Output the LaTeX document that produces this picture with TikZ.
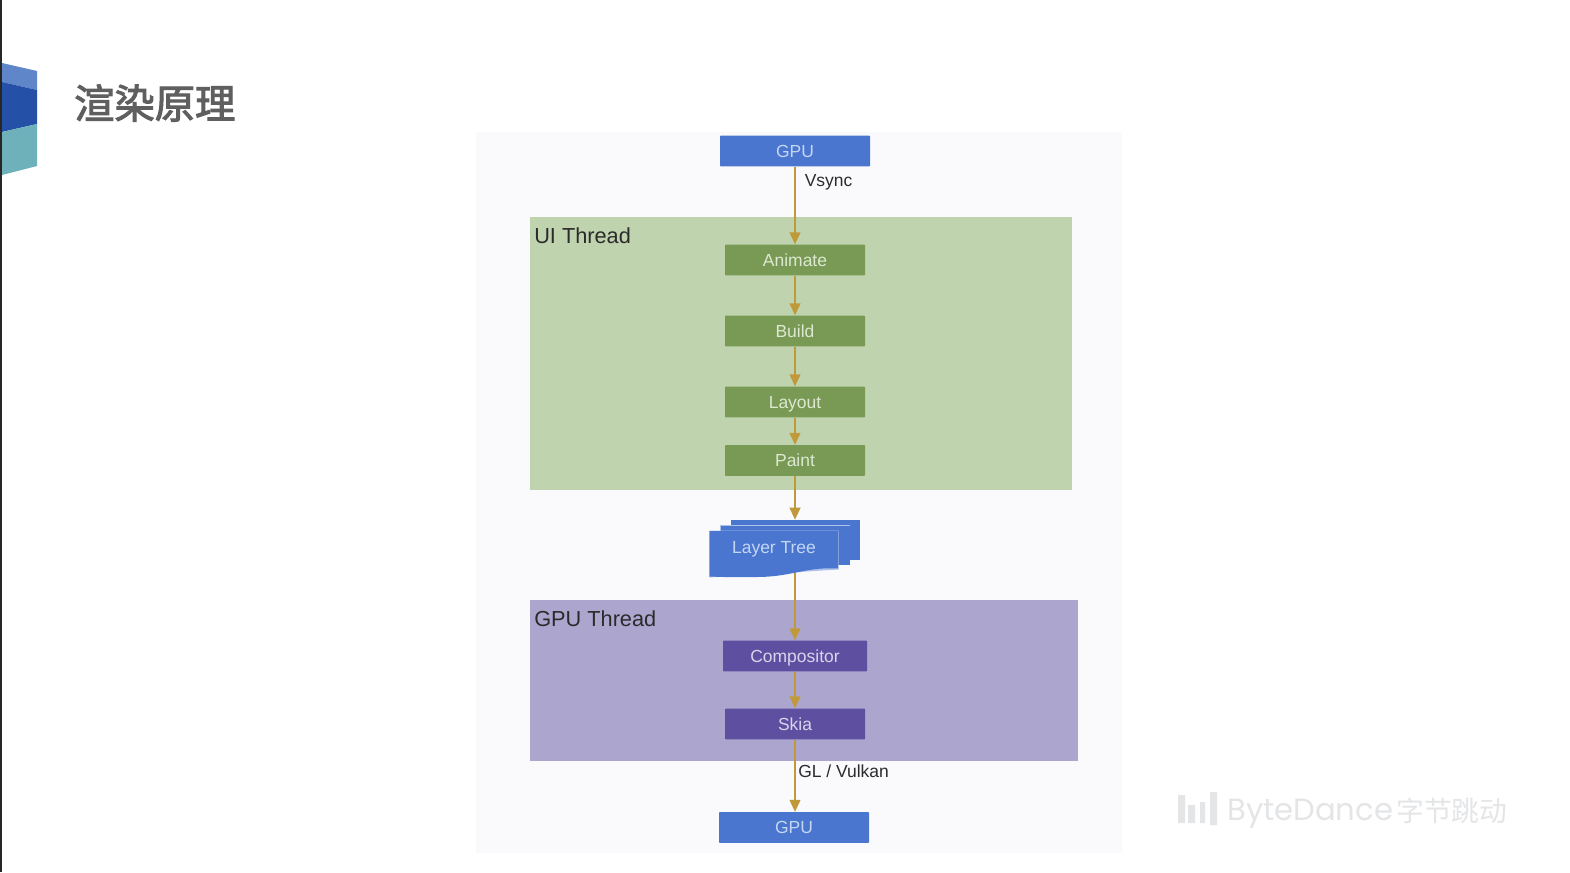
\documentclass[tikz,border=0pt]{standalone}
\usepackage{fontspec}
\setmainfont{Liberation Sans}
\newfontfamily\cjk{Noto Sans CJK SC}
\newfontfamily\cjkmed[FakeBold=2.5]{Noto Sans CJK SC}
\newfontfamily\brandfont{Poppins}
\definecolor{panelbg}{HTML}{FAFAFD}
\definecolor{bluebox}{HTML}{4A76CF}
\definecolor{bluetxt}{HTML}{C5D6F2}
\definecolor{uibg}{HTML}{BFD4AE}
\definecolor{greenbox}{HTML}{789A55}
\definecolor{greentxt}{HTML}{DDE8D0}
\definecolor{gpubg}{HTML}{ACA6CF}
\definecolor{purplebox}{HTML}{5E4FA0}
\definecolor{purpletxt}{HTML}{DAD5EC}
\definecolor{arrowc}{HTML}{C09A3A}
\definecolor{titlec}{HTML}{5F5F5F}
\definecolor{labelc}{HTML}{2B2B2B}
\definecolor{wm}{HTML}{E4E5E7}
\definecolor{logoa}{HTML}{5F86C8}
\definecolor{logob}{HTML}{2450A8}
\definecolor{logoc}{HTML}{6FB1BB}
\usetikzlibrary{arrows.meta}
\tikzset{
  px/.style={x=0.75pt,y=-0.75pt},
  flowbox/.style={minimum height=23pt,inner sep=0pt,font=\fontsize{13.1}{15}\selectfont,text height=9.4pt,text depth=0pt,rounded corners=0.5pt},
  gpubox/.style={flowbox,fill=bluebox,text=bluetxt,minimum width=112.5pt},
  greenboxs/.style={flowbox,fill=greenbox,text=greentxt,minimum width=105pt},
  purpleboxs/.style={flowbox,fill=purplebox,text=purpletxt,minimum width=105pt},
  conn/.style={draw=arrowc,line width=1.5pt,-{Triangle[length=9pt,width=8pt]}},
  linklabel/.style={text=labelc,font=\fontsize{13.1}{15}\selectfont,inner sep=0pt,text height=9.4pt,text depth=0pt},
  grouplabel/.style={text=labelc,font=\fontsize{16.3}{20}\selectfont,inner sep=0pt,anchor=west,text height=11.7pt,text depth=0pt},
}
\begin{document}
\begin{tikzpicture}[px]
\useasboundingbox (0,0) rectangle (1570,872);
\fill[white] (0,0) rectangle (1570,872);
\fill[black!85] (0,0) rectangle (2,872);
% logo
\fill[logoa] (2,63) -- (37,71) -- (37,90) -- (2,82) -- cycle;
\fill[logob] (2,82) -- (37,90) -- (37,124) -- (2,132) -- cycle;
\fill[logoc] (2,132) -- (37,124) -- (37,166) -- (2,175) -- cycle;
\node[anchor=west,inner sep=0pt,text=titlec,font=\cjkmed\fontsize{30.2}{36}\selectfont] (title) at (74,103) {渲染原理};
% panel and groups
\fill[panelbg] (476,132) rectangle (1122,853);
\fill[uibg] (529.5,217) rectangle (1071.5,490);
\fill[gpubg] (529.5,600) rectangle (1077.5,760.5);
\node[grouplabel] (uilabel) at (534,236) {UI Thread};
\node[grouplabel] (gpulabel) at (534,618.5) {GPU Thread};
% boxes
\node[gpubox] (gputop) at (795,151) {GPU};
\node[greenboxs] (animate) at (795,260) {Animate};
\node[greenboxs] (build) at (795,331) {Build};
\node[greenboxs] (layout) at (795,402) {Layout};
\node[greenboxs] (paint) at (795,460.5) {Paint};
\node[purpleboxs,minimum width=108pt] (compositor) at (795,656) {Compositor};
\node[purpleboxs] (skia) at (795,724) {Skia};
\node[gpubox] (gpubot) at (794,827.5) {GPU};
\node[minimum width=112.5pt,minimum height=43.5pt,inner sep=0pt] (lt) at (785,549) {};
% connector hidden behind the layer tree
\draw[conn] (lt.center -| paint) -- (compositor);
% layer tree shape
\begin{scope}[shift={(0.5,0.5)}]
\fill[bluebox] (730,519.5) -- (859,519.5) -- (859,559) -- (730,559) -- cycle;
\fill[white!55!bluebox] (719.5,524.5) rectangle (849.5,564.5);
\fill[bluebox] (720,525) -- (849,525) -- (849,564) -- (720,564) -- cycle;
\fill[white!55!bluebox] (708.5,530) -- (838,530) -- (838,569) -- (708.5,577) -- cycle;
\fill[bluebox] (709,530.5) -- (837.5,530.5) -- (837.5,568)
  .. controls (806,566) and (791,576.5) .. (756,576.5)
  .. controls (736,577) and (721,576.5) .. (709,576) -- cycle;
\end{scope}
\node[text=bluetxt,font=\fontsize{13.1}{15}\selectfont,inner sep=0pt,text height=9.4pt,text depth=0pt] (lttext) at (774,547.5) {Layer Tree};
% connectors
\draw[conn] (gputop) -- (animate);
\draw[conn] (animate) -- (build);
\draw[conn] (build) -- (layout);
\draw[conn] (layout) -- (paint);
\draw[conn] (paint) -- (paint |- lt.north);
\draw[conn] (compositor) -- (skia);
\draw[conn] (skia.south) -- (gpubot.north -| skia.south);
\node[linklabel,anchor=west] (vsync) at (804.5,180.5) {Vsync};
\node[linklabel,anchor=west] (glv) at (798,771.5) {GL / Vulkan};
% watermark
\fill[wm] (1178,795) rectangle (1185,823) (1188,805) rectangle (1195,823) (1200,802) rectangle (1205,823) (1210,792) rectangle (1217,825);
\node[anchor=west,inner sep=0pt,text=wm,font=\brandfont\fontsize{23}{28}\selectfont] (brand) at (1227,813.5) {ByteDance};
\node[anchor=west,inner sep=0pt,text=wm,font=\cjk\fontsize{20.8}{28}\selectfont] (brandcn) at (1396,811) {字节跳动};
\end{tikzpicture}
\end{document}
